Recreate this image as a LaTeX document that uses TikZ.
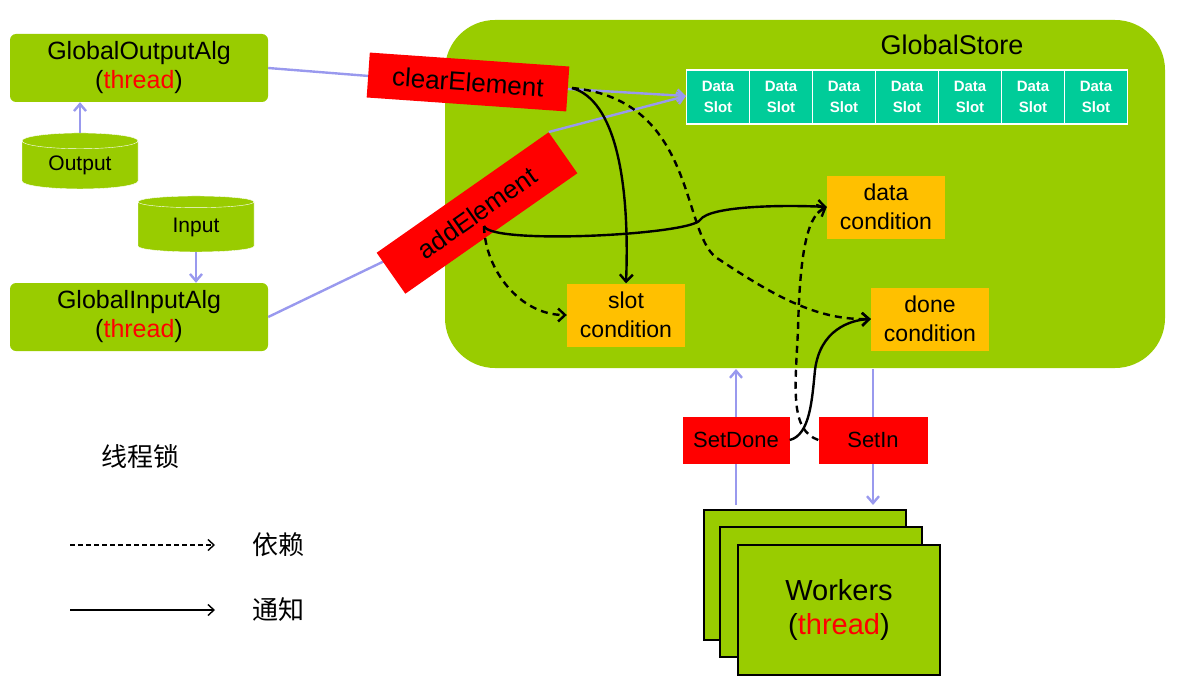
\documentclass[tikz,border=0pt]{standalone}
\usepackage{fontspec}
\setmainfont{Liberation Sans}
\newfontfamily\cjk{Noto Sans CJK SC}
\usetikzlibrary{arrows.meta,shapes.geometric}
\definecolor{gr}{HTML}{99CC00}
\definecolor{sl}{HTML}{00CC99}
\definecolor{og}{HTML}{FFC000}
\definecolor{bl}{HTML}{9999EE}
\begin{document}
\begin{tikzpicture}[x=1pt,y=-1pt,
  box/.style={fill=gr,rounded corners=6pt,align=center,font=\fontsize{25}{29}\selectfont,inner sep=0pt},
  cond/.style={fill=og,align=center,font=\fontsize{23}{29}\selectfont,minimum width=118pt,minimum height=63pt,inner sep=0pt},
  op/.style={fill=red,font=\fontsize{26}{28}\selectfont,inner sep=0pt},
  cyl/.style={cylinder,shape border rotate=90,aspect=0.25,fill=gr,draw=white,font=\fontsize{21}{24}\selectfont,minimum width=116pt,minimum height=56pt,inner sep=0pt},
  blu/.style={bl,line width=2.4pt,-{Straight Barb[length=7pt,width=12pt]}},
  con/.style={black,line width=2.4pt,-{Straight Barb[length=7pt,width=13pt]}},
  dep/.style={con,dash pattern=on 7pt off 5pt},
  slot/.style={fill=sl,draw=white,line width=1.5pt,minimum width=63pt,minimum height=54pt,align=center,text=white,font=\bfseries\fontsize{15}{21}\selectfont,inner sep=0pt},
  wk/.style={fill=gr,draw=black,line width=1.5pt,minimum width=202pt,minimum height=130pt}]
\useasboundingbox (0,0) rectangle (1182,690);
\node[fill=gr,rounded corners=50pt,minimum width=720pt,minimum height=348pt] (store) at (805,194) {};
\node[font=\fontsize{27}{30}\selectfont] (st) at (952,45) {GlobalStore};
\foreach \i in {0,...,6}{\node[slot] (s\i) at (718+\i*63,97) {Data\\Slot};}
\node[box,minimum width=258pt,minimum height=68pt] (goa) at (139,68) {GlobalOutputAlg\\(\textcolor{red}{thread})};
\node[box,minimum width=258pt,minimum height=68pt] (gia) at (139,317) {GlobalInputAlg\\(\textcolor{red}{thread})};
\node[cyl] (out) at (80,165) {Output};
\node[cyl] (in) at (196,227) {Input};
\draw[blu] (out.top) -- (goa.south -| out.top);
\draw[blu] (in.bottom) -- (gia.north -| in.bottom);
\coordinate (ds) at (686,96);
\draw[bl,line width=2.4pt] (goa.east) -- (470,84);
\draw[bl,line width=2.4pt] (gia.east) -- (480,215);
\node[op,rotate=-4,minimum width=200pt,minimum height=45pt] (ce) at (468,82) {clearElement};
\node[op,rotate=35,minimum width=210pt,minimum height=50pt] (ae) at (477,213) {addElement};
\draw[blu] (ce.east) -- (ds);
\draw[blu] (ae.north east) -- (ds);
\node[cond] (dc) at (886,207) {data\\condition};
\node[cond] (sc) at (626,315) {slot\\condition};
\node[cond] (dn) at (930,319) {done\\condition};
\coordinate (sd0) at (736,505); \coordinate (sd1) at (736,369);
\coordinate (si0) at (873,369); \coordinate (si1) at (873,505);
\draw[blu] (sd0) -- (sd1);
\draw[blu] (si0) -- (si1);
\node[op,minimum width=107pt,minimum height=47pt,font=\fontsize{22}{26}\selectfont] (sdn) at (736,440) {SetDone};
\node[op,minimum width=109pt,minimum height=47pt,font=\fontsize{22}{26}\selectfont] (sin) at (873,440) {SetIn};
\node[wk] (w1) at (805,575) {};
\node[wk] (w2) at (821,592) {};
\node[wk,align=center,font=\fontsize{29}{34}\selectfont] (w3) at (839,610) {Workers\\(\textcolor{red}{thread})};
\coordinate (cs) at (572,88);
\draw[con] (cs) .. controls (615,100) and (630,180) .. (sc.north);
\draw[dep] (cs) .. controls (700,100) and (680,240) .. (720,260) .. controls (780,300) and (820,320) .. (dn.west);
\coordinate (as) at (484,226);
\draw[con] (as) .. controls (490,245) and (690,235) .. (700,220) .. controls (710,205) and (790,205) .. (dc.west);
\draw[dep] (as) .. controls (485,270) and (520,315) .. (sc.west);
\draw[dep] (sin.west) .. controls (790,430) and (795,390) .. (798,330) .. controls (800,240) and (810,215) .. (dc.west);
\draw[con] (sdn.east) .. controls (810,435) and (812,400) .. (815,370) .. controls (820,330) and (850,320) .. (dn.west);
\node[font=\cjk\fontsize{26}{30}\selectfont] (l0) at (140,457) {线程锁};
\coordinate (a0) at (70,545); \coordinate (a1) at (215,545);
\coordinate (b0) at (70,610); \coordinate (b1) at (215,610);
\draw[black,line width=1.4pt,dash pattern=on 5pt off 3pt,-{Straight Barb[length=6pt,width=11pt]}] (a0) -- (a1);
\draw[black,line width=1.4pt,-{Straight Barb[length=6pt,width=11pt]}] (b0) -- (b1);
\node[font=\cjk\fontsize{26}{30}\selectfont] (l1) at (278,545) {依赖};
\node[font=\cjk\fontsize{26}{30}\selectfont] (l2) at (278,610) {通知};
\end{tikzpicture}
\end{document}
